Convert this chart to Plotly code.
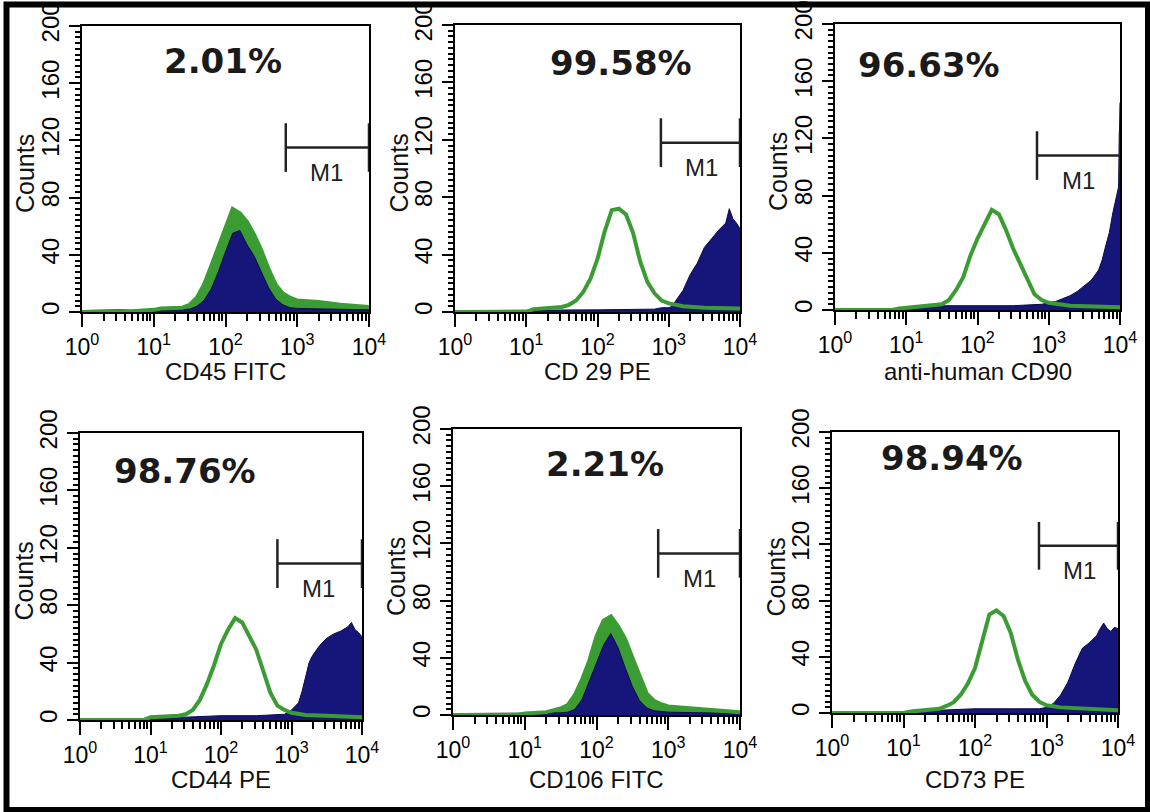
import math
import plotly.graph_objects as go

# ---------------- data ----------------
marker_names = ["CD45 FITC", "CD 29 PE", "anti-human CD90", "CD44 PE", "CD106 FITC", "CD73 PE"]
positive_pct = ["2.01%", "99.58%", "96.63%", "98.76%", "2.21%", "98.94%"]

# isotype control (green outline): log10 fluorescence / counts
cd45_iso_log = [0.0, 0.7, 1.0, 1.1, 1.4, 1.5, 1.6, 1.7, 1.8, 1.9, 2.0, 2.1, 2.2, 2.3, 2.4, 2.5, 2.6, 2.7, 2.8, 2.9, 3.0, 3.3, 3.6, 4.0]
cd45_iso_cnt = [0, 0.5, 1.5, 2.5, 3, 5, 10, 19, 32, 46, 60, 72, 69, 63, 54, 43, 30, 19, 13, 10, 8, 7, 5, 3.5]
cd29_iso_log = [0.0, 1.0, 1.1, 1.4, 1.5, 1.6, 1.7, 1.8, 1.9, 2.0, 2.1, 2.2, 2.3, 2.4, 2.5, 2.6, 2.7, 2.8, 2.9, 3.0, 3.2, 3.5, 4.0]
cd29_iso_cnt = [0, 0, 2, 3, 3.5, 5, 8, 14, 23, 37, 56, 71, 72, 68, 55, 35, 21, 13, 8, 6, 4, 3, 2.5]
cd90_iso_log = [0.0, 0.8, 0.9, 1.0, 1.2, 1.4, 1.5, 1.6, 1.7, 1.8, 1.9, 2.0, 2.1, 2.2, 2.3, 2.4, 2.5, 2.6, 2.7, 2.8, 2.9, 3.0, 3.3, 4.0]
cd90_iso_cnt = [0, 0, 1, 1.5, 2, 3, 4, 7, 14, 23, 38, 50, 60, 70, 67, 56, 43, 32, 21, 11, 7, 5, 3, 2]
cd44_iso_log = [0.0, 0.9, 1.0, 1.4, 1.5, 1.6, 1.7, 1.8, 1.9, 2.0, 2.1, 2.2, 2.3, 2.4, 2.5, 2.6, 2.7, 2.8, 2.9, 3.0, 3.2, 3.5, 4.0]
cd44_iso_cnt = [0, 0, 2, 3, 4, 7, 14, 25, 38, 53, 63, 71, 68, 59, 49, 34, 19, 10, 7, 5, 3.5, 3, 2]
cd106_iso_log = [0.0, 0.9, 1.0, 1.3, 1.5, 1.6, 1.7, 1.8, 1.9, 2.0, 2.1, 2.2, 2.3, 2.4, 2.5, 2.6, 2.7, 2.8, 2.9, 3.0, 3.2, 3.6, 4.0]
cd106_iso_cnt = [0, 0, 1, 2, 4.5, 7, 14, 25, 38, 55, 66, 69, 62, 53, 40, 27, 15, 10, 7.5, 6, 5, 3.5, 2]
cd73_iso_log = [0.0, 1.0, 1.1, 1.3, 1.5, 1.6, 1.7, 1.8, 1.9, 2.0, 2.1, 2.2, 2.3, 2.4, 2.5, 2.6, 2.7, 2.8, 2.9, 3.0, 3.2, 3.6, 4.0]
cd73_iso_cnt = [0, 0, 1, 2, 3, 5, 7.5, 13, 21, 32, 50, 70, 73, 69, 57, 38, 23, 13, 8, 5.5, 4, 3, 2]

# stained sample (navy filled): log10 fluorescence / counts
cd45_st_log = [0.0, 0.5, 1.0, 1.4, 1.5, 1.6, 1.7, 1.8, 1.9, 2.0, 2.1, 2.2, 2.3, 2.4, 2.5, 2.6, 2.7, 2.8, 2.9, 3.0, 3.5, 4.0]
cd45_st_cnt = [1, 1.5, 1, 1.5, 2, 4, 8, 16, 28, 42, 55, 57, 47, 39, 28, 17, 9, 5, 3, 2.5, 2, 1.5]
cd29_st_log = [0.0, 1.0, 2.0, 2.8, 2.9, 3.0, 3.05, 3.1, 3.2, 3.3, 3.4, 3.5, 3.6, 3.7, 3.8, 3.85, 3.9, 3.95, 4.0]
cd29_st_cnt = [1, 1, 1.5, 2, 3, 3, 4, 8, 15, 26, 34, 45, 51, 57, 62, 72, 65, 62, 58]
cd90_st_log = [0.0, 1.0, 1.5, 2.0, 2.5, 2.9, 3.0, 3.1, 3.2, 3.3, 3.4, 3.5, 3.6, 3.7, 3.75, 3.8, 3.85, 3.9, 3.95, 3.98, 4.0]
cd90_st_cnt = [1, 1, 3, 3, 3, 4, 5, 6, 8, 10, 13, 17, 21, 28, 35, 45, 54, 68, 80, 86, 145]
cd44_st_log = [0.0, 1.0, 1.5, 2.0, 2.5, 2.9, 3.0, 3.1, 3.15, 3.2, 3.25, 3.3, 3.4, 3.5, 3.6, 3.7, 3.8, 3.85, 3.9, 3.95, 4.0]
cd44_st_cnt = [1, 1, 2, 3, 3, 4, 7, 12, 20, 31, 40, 45, 52, 57, 60, 62, 65, 68, 63, 61, 58]
cd106_st_log = [0.0, 1.0, 1.5, 1.6, 1.7, 1.8, 1.9, 2.0, 2.1, 2.2, 2.3, 2.4, 2.5, 2.6, 2.7, 2.8, 3.0, 3.5, 4.0]
cd106_st_cnt = [1, 1, 1.5, 2, 4, 11, 24, 37, 49, 57, 47, 33, 20, 10, 5, 3, 2, 1.5, 1]
cd73_st_log = [0.0, 1.0, 1.5, 2.0, 2.5, 2.9, 3.0, 3.1, 3.2, 3.3, 3.4, 3.5, 3.6, 3.7, 3.75, 3.8, 3.85, 3.9, 3.95, 4.0]
cd73_st_cnt = [1, 1, 2, 3, 3, 3, 4, 7, 13, 22, 35, 46, 50, 55, 60, 64, 60, 58, 61, 60]

# M1 gate: start channel, end channel, count level
m1_start = [692, 776, 684, 631, 724, 785]
m1_end = [10000, 10000, 10000, 10000, 10000, 10000]
m1_level = [115, 118, 108, 109, 113, 119]

y_ticks = [0, 40, 80, 120, 160, 200]
x_ticks = [1, 10, 100, 1000, 10000]
x_ticktext = ["10<sup>0</sup>", "10<sup>1</sup>", "10<sup>2</sup>", "10<sup>3</sup>", "10<sup>4</sup>"]

iso_series = [(cd45_iso_log, cd45_iso_cnt), (cd29_iso_log, cd29_iso_cnt), (cd90_iso_log, cd90_iso_cnt),
              (cd44_iso_log, cd44_iso_cnt), (cd106_iso_log, cd106_iso_cnt), (cd73_iso_log, cd73_iso_cnt)]
st_series = [(cd45_st_log, cd45_st_cnt), (cd29_st_log, cd29_st_cnt), (cd90_st_log, cd90_st_cnt),
             (cd44_st_log, cd44_st_cnt), (cd106_st_log, cd106_st_cnt), (cd73_st_log, cd73_st_cnt)]

# ---------------- layout geometry (pixels) ----------------
W, H = 1150, 812
boxes = [(82, 369, 26, 312), (455, 740, 25, 312), (835, 1120, 24, 310),
         (80, 362, 433, 720), (453, 740, 429, 715), (832, 1118, 432, 713)]
pct_pos = [(0.49, 0.878), (0.582, 0.868), (0.33, 0.857), (0.372, 0.868), (0.53, 0.878), (0.42, 0.907)]
xtitle_y = [371, 371, 371, 779, 779, 779]
iso_filled = [True, False, False, False, True, False]   # isotype overlapping the sample

GREEN = "#3c9c34"
NAVY = "#15157a"
FONT = "Liberation Sans, Arial, sans-serif"
NARROW = "Liberation Sans Narrow, Arial Narrow, Liberation Sans, Arial, sans-serif"

minor_x = [m * 10 ** k for k in range(4) for m in range(2, 10)]

fig = go.Figure()
annotations = []
layout = dict(width=W, height=H, margin=dict(l=0, r=0, t=0, b=0, pad=0), autosize=False,
              paper_bgcolor="white", plot_bgcolor="white", showlegend=False)

for i in range(6):
    n = "" if i == 0 else str(i + 1)
    xa, ya = "x" + n, "y" + n
    x0, x1, yt, yb = boxes[i]
    layout["xaxis" + n] = dict(
        domain=[x0 / W, x1 / W], anchor=ya, type="log", range=[0, 4], automargin=False,
        tickmode="array", tickvals=x_ticks, ticktext=x_ticktext,
        ticks="outside", ticklen=13, tickwidth=2, tickcolor="black",
        tickfont=dict(family=FONT, size=23, color="black"),
        showline=True, linecolor="black", linewidth=2, mirror=True,
        showgrid=False, zeroline=False,
        minor=dict(tickmode="array", tickvals=minor_x, ticks="outside", ticklen=7,
                   tickwidth=1.5, tickcolor="black", showgrid=False),
    )
    layout["yaxis" + n] = dict(
        domain=[1 - yb / H, 1 - yt / H], anchor=xa, range=[0, 200], automargin=False,
        tickmode="array", tickvals=y_ticks, tickangle=-90,
        ticks="outside", ticklen=11, tickwidth=2, tickcolor="black",
        tickfont=dict(family=NARROW, size=24, color="black"),
        showline=True, linecolor="black", linewidth=2, mirror=True,
        showgrid=False, zeroline=False,
        minor=dict(dtick=4, ticks="outside", ticklen=5, tickwidth=1.5,
                   tickcolor="black", showgrid=False),
    )

    ilog, icnt = iso_series[i]
    iso_x = [10 ** v for v in ilog]
    if iso_filled[i]:
        fig.add_trace(go.Scatter(x=iso_x, y=icnt, mode="lines", line=dict(color=GREEN, width=0),
                                 fill="tozeroy", fillcolor=GREEN, xaxis=xa, yaxis=ya,
                                 hoverinfo="skip"))
    slog, scnt = st_series[i]
    fig.add_trace(go.Scatter(x=[10 ** v for v in slog], y=scnt, mode="lines",
                             line=dict(color="#0b0b45", width=1), fill="tozeroy",
                             fillcolor=NAVY, xaxis=xa, yaxis=ya, hoverinfo="skip"))
    fig.add_trace(go.Scatter(x=iso_x, y=icnt, mode="lines",
                             line=dict(color=GREEN, width=4), xaxis=xa, yaxis=ya,
                             hoverinfo="skip"))
    # M1 gate bracket
    s, e, lv = m1_start[i], m1_end[i], m1_level[i]
    fig.add_trace(go.Scatter(x=[s, s, None, s, e, None, e, e],
                             y=[lv - 17, lv + 17, None, lv, lv, None, lv - 17, lv + 17],
                             mode="lines", line=dict(color="#222", width=2.5),
                             xaxis=xa, yaxis=ya, hoverinfo="skip"))
    annotations.append(dict(x=math.log10(s), y=lv, xref=xa, yref=ya, text="M1",
                            showarrow=False, xshift=41, yshift=-25,
                            font=dict(family=FONT, size=24, color="#222")))
    # percentage
    annotations.append(dict(x=pct_pos[i][0], y=pct_pos[i][1], xref=xa + " domain",
                            yref=ya + " domain", text="<b>" + positive_pct[i] + "</b>",
                            showarrow=False, xanchor="center", yanchor="middle",
                            font=dict(family="DejaVu Sans", size=34, color="#1a1a1a")))
    # axis titles
    annotations.append(dict(x=(x1 + x0) / 2 / W, y=1 - xtitle_y[i] / H, xref="paper",
                            yref="paper", text=marker_names[i], showarrow=False,
                            xanchor="center", yanchor="middle",
                            font=dict(family=FONT, size=24, color="#111")))
    annotations.append(dict(x=(x0 - 57) / W, y=1 - ((yt + yb) / 2 + 5) / H, xref="paper",
                            yref="paper", text="Counts", showarrow=False, textangle=-90,
                            xanchor="center", yanchor="middle",
                            font=dict(family=FONT, size=25, color="#111")))

layout["annotations"] = annotations
layout["shapes"] = [dict(type="rect", xref="paper", yref="paper",
                         x0=6.5 / W, x1=1148 / W, y0=1 - 810 / H, y1=1 - 4.5 / H,
                         line=dict(color="black", width=6), fillcolor="rgba(0,0,0,0)")]
fig.update_layout(**layout)

page_fix = ("document.documentElement.style.margin='0';document.body.style.margin='0';"
            "document.body.style.overflow='hidden';"
            "var d=document.getElementById('{plot_id}');d.style.position='fixed';"
            "d.style.left='0px';d.style.top='0px';window.scrollTo(0,0);")
fig.write_html("out.html", config={"displayModeBar": False}, post_script=page_fix)
